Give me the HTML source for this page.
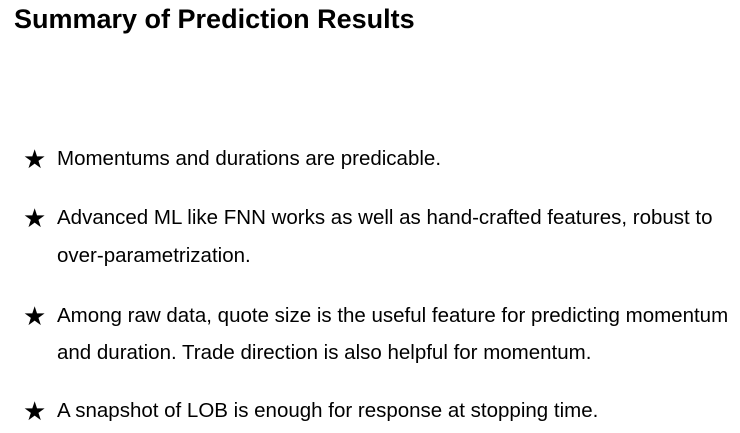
<!DOCTYPE html>
<html><head><meta charset="utf-8"><style>
body{margin:0;width:740px;height:433px;background:#fff;font-family:"Liberation Sans",sans-serif;color:#000;position:relative;overflow:hidden}
.t{position:absolute;left:14px;top:5px;font-size:27px;font-weight:bold;white-space:nowrap;line-height:1.1}
.s{position:absolute;left:23px;font-size:26px;line-height:1}
.l{position:absolute;left:57px;font-size:20.5px;white-space:nowrap;line-height:1}
</style></head><body>
<div class="t">Summary of Prediction Results</div>
<div class="s" style="top:146px">★</div>
<div class="l" style="top:149px">Momentums and durations are predicable.</div>
<div class="s" style="top:205px">★</div>
<div class="l" style="top:208px">Advanced ML like FNN works as well as hand-crafted features, robust to</div>
<div class="l" style="top:246px">over-parametrization.</div>
<div class="s" style="top:303px">★</div>
<div class="l" style="top:306px">Among raw data, quote size is the useful feature for predicting momentum</div>
<div class="l" style="top:343px">and duration. Trade direction is also helpful for momentum.</div>
<div class="s" style="top:398px">★</div>
<div class="l" style="top:401px">A snapshot of LOB is enough for response at stopping time.</div>
</body></html>
